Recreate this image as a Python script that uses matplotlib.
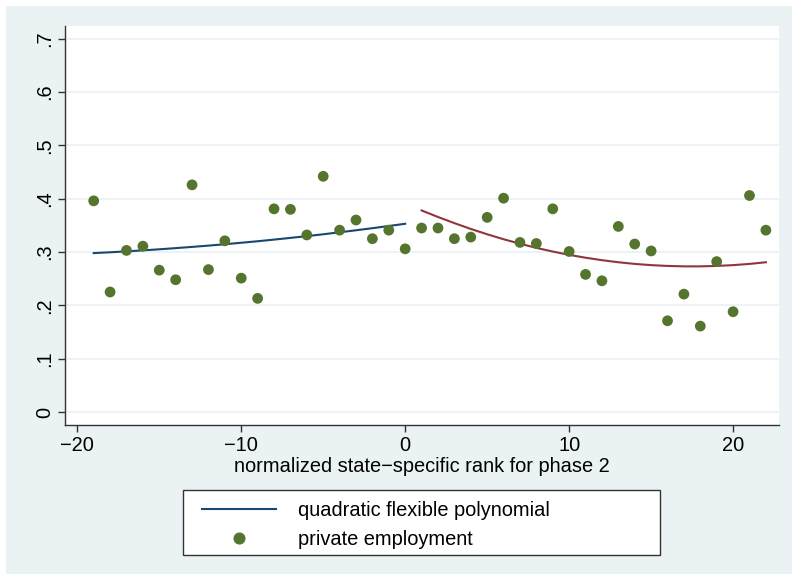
import matplotlib
matplotlib.use("Agg")
import matplotlib.pyplot as plt
from matplotlib.patches import Rectangle
from matplotlib.lines import Line2D

plt.rcParams['font.family'] = ['Liberation Sans', 'DejaVu Sans']

# scatter: private employment by normalized rank
rank = list(range(-19, 23))
employment = [0.396, 0.225, 0.303, 0.311, 0.266, 0.248, 0.426, 0.267, 0.321, 0.251,
              0.213, 0.381, 0.380, 0.332, 0.442, 0.341, 0.360, 0.325, 0.341, 0.306,
              0.345, 0.345, 0.325, 0.328, 0.365, 0.401, 0.318, 0.316, 0.381, 0.301,
              0.258, 0.246, 0.348, 0.315, 0.302, 0.171, 0.221, 0.161, 0.282, 0.188,
              0.406, 0.341]

# fitted values, left and right of the cutoff
fit_left_x = list(range(-19, 1))
fit_left_y = [0.298, 0.2995, 0.3012, 0.3031, 0.3051, 0.3073, 0.3096, 0.3120, 0.3146,
              0.3174, 0.3202, 0.3233, 0.3265, 0.3298, 0.3333, 0.3370, 0.3408, 0.3447,
              0.3488, 0.353]
fit_right_x = list(range(1, 23))
fit_right_y = [0.378, 0.3657, 0.3542, 0.3433, 0.3333, 0.3240, 0.3156, 0.3078, 0.3009,
               0.2947, 0.2893, 0.2847, 0.2808, 0.2777, 0.2754, 0.2739, 0.2731, 0.2731,
               0.2739, 0.2754, 0.2777, 0.2808]

xticks = [-20, -10, 0, 10, 20]
xticklabels = ['\u221220', '\u221210', '0', '10', '20']
yticks = [0, 0.1, 0.2, 0.3, 0.4, 0.5, 0.6, 0.7]
yticklabels = ['0', '.1', '.2', '.3', '.4', '.5', '.6', '.7']

navy = '#1A476F'
maroon = '#90353B'
green = '#55752F'
bg = '#EAF2F3'
fs = 14.4

W, H = 792, 574
fig = plt.figure(figsize=(W / 100, H / 100), dpi=100, facecolor='white')
fig.patches.append(Rectangle((6 / W, 0), 1, 1 - 6 / H, transform=fig.transFigure,
                             facecolor=bg, edgecolor='none', zorder=-10))

ax = fig.add_axes([65 / W, 1 - 425 / H, (779 - 65) / W, (425 - 26) / H])
ax.set_facecolor('white')
ax.set_xlim(-20.75, 22.8)
ax.set_ylim(-0.0245, 0.724)

for y in yticks:
    ax.axhline(y, color=bg, lw=1.3, zorder=0)

ax.plot(fit_left_x, fit_left_y, color=navy, lw=1.5, zorder=2)
ax.plot(fit_right_x, fit_right_y, color=maroon, lw=1.5, zorder=2)
ax.scatter(rank, employment, s=60, color=green, edgecolors='none', zorder=3)

for s in ['top', 'right']:
    ax.spines[s].set_visible(False)
for s in ['left', 'bottom']:
    ax.spines[s].set_color('#333333')
    ax.spines[s].set_linewidth(1)

ax.set_xticks(xticks)
ax.set_xticklabels(xticklabels, fontsize=fs)
ax.set_yticks(yticks)
ax.set_yticklabels(yticklabels, fontsize=fs, rotation=90, va='center')
ax.tick_params(length=5, width=1, color='#333333', pad=3)
ax.set_xlabel('normalized state\u2212specific rank for phase 2', fontsize=fs, labelpad=1)

# legend box
fig.patches.append(Rectangle((183 / W, 1 - 555 / H), (660 - 183) / W, (555 - 490) / H,
                             transform=fig.transFigure, facecolor='white',
                             edgecolor='#333333', lw=1, zorder=1))
handles = [Line2D([], [], color=navy, lw=1.5),
           Line2D([], [], color=green, marker='o', ls='none', markersize=7.7)]
leg = fig.legend(handles, ['quadratic flexible polynomial', 'private employment'],
                 loc='center left', bbox_to_anchor=(184 / W, 1 - 525 / H),
                 frameon=False, fontsize=fs, handlelength=3.7, handletextpad=1.1,
                 labelspacing=0.5)

fig.savefig('out.png', dpi=100, facecolor=fig.get_facecolor())
